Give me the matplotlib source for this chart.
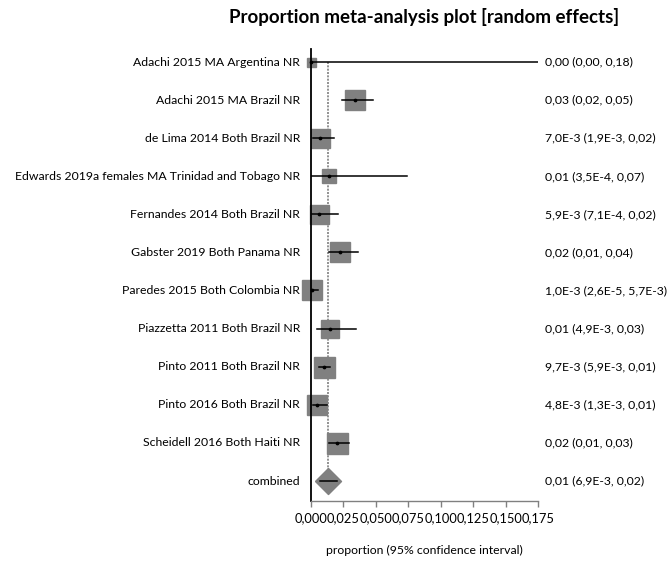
import math
import matplotlib
matplotlib.use("Agg")
import matplotlib.pyplot as plt
from matplotlib.ticker import FixedLocator, FuncFormatter

plt.rcParams['font.family'] = ['Lato', 'DejaVu Sans']

studies = [
    "Adachi 2015 MA Argentina NR",
    "Adachi 2015 MA Brazil NR",
    "de Lima 2014 Both Brazil NR",
    "Edwards 2019a females MA Trinidad and Tobago NR",
    "Fernandes 2014 Both Brazil NR",
    "Gabster 2019 Both Panama NR",
    "Paredes 2015 Both Colombia NR",
    "Piazzetta 2011 Both Brazil NR",
    "Pinto 2011 Both Brazil NR",
    "Pinto 2016 Both Brazil NR",
    "Scheidell 2016 Both Haiti NR",
]
estimate = [0.0, 0.034, 0.0070, 0.0140, 0.0059, 0.0227, 0.0010, 0.0145, 0.0097, 0.0048, 0.0200]
lower = [0.0, 0.024, 0.0019, 0.00035, 0.00071, 0.014, 0.000026, 0.0049, 0.0059, 0.0013, 0.014]
upper = [0.18, 0.048, 0.018, 0.074, 0.021, 0.036, 0.0057, 0.0346, 0.0147, 0.0126, 0.029]
# relative study weights (box side length in pixels)
weights = [9, 20, 19, 14, 19, 20, 20, 18, 21, 20, 21]

pooled_label = "combined"
pooled = 0.0129
pooled_lower = 0.0069
pooled_upper = 0.020

xticks = [0.0, 0.025, 0.05, 0.075, 0.1, 0.125, 0.15, 0.175]


def fmt(v):
    if v == 0 or v >= 0.01:
        return f"{v:.2f}".replace('.', ',')
    e = math.floor(math.log10(v))
    m = round(v / 10 ** e, 1)
    if m >= 10:
        m /= 10
        e += 1
    return f"{m:.1f}E{e}".replace('.', ',')


DPI = 100
FS = 8.8
fig = plt.figure(figsize=(6.70, 5.61), dpi=DPI)
W, H = 670, 561
ax_left, ax_right, ax_top, ax_bottom = 311, 538, 49, 501
ax = fig.add_axes([ax_left / W, (H - ax_bottom) / H,
                   (ax_right - ax_left) / W, (ax_bottom - ax_top) / H])

n = len(studies)
ax.set_xlim(xticks[0], xticks[-1])
ax.set_ylim(n + 0.53, -0.34)

px_to_pt = 72 / DPI

# pooled estimate reference line
ax.plot([pooled, pooled], [0, n], color='#7f7f7f', lw=1.2, ls=(0, (1.2, 0.8)), zorder=1)

for i in range(n):
    ax.plot([estimate[i]], [i], marker='s', ms=weights[i] * px_to_pt,
            color='#808080', mec='#808080', ls='none', zorder=2, clip_on=False)
    ax.plot([lower[i], upper[i]], [i, i], color='black', lw=1.1, zorder=3)
    ax.plot([estimate[i]], [i], marker='o', ms=1.7, color='black', ls='none', zorder=4,
            clip_on=False)
    fig.text(300 / W, 1 - (62 + 38.1 * i) / H, studies[i], ha='right', va='center',
             fontsize=FS)
    fig.text(545 / W, 1 - (62 + 38.1 * i) / H,
             f"{fmt(estimate[i])} ({fmt(lower[i])}, {fmt(upper[i])})",
             ha='left', va='center', fontsize=FS)

diamond = [(-1, 0), (0, 1), (1, 0), (0, -1), (-1, 0)]
ax.plot([pooled], [n], marker=diamond, ms=26 * px_to_pt, color='#808080',
        mec='#808080', ls='none', zorder=2, clip_on=False)
ax.plot([pooled_lower, pooled_upper], [n, n], color='black', lw=1.1, zorder=3)
fig.text(300 / W, 1 - (62 + 38.1 * n) / H, pooled_label, ha='right', va='center',
         fontsize=FS)
fig.text(545 / W, 1 - (62 + 38.1 * n) / H,
         f"{fmt(pooled)} ({fmt(pooled_lower)}, {fmt(pooled_upper)})",
         ha='left', va='center', fontsize=FS)

for side in ('top', 'right'):
    ax.spines[side].set_visible(False)
ax.spines['left'].set_color('black')
ax.spines['left'].set_linewidth(1.3)
ax.spines['bottom'].set_color('#808080')
ax.spines['bottom'].set_linewidth(1.0)
ax.set_yticks([])
ax.xaxis.set_major_locator(FixedLocator(xticks))
ax.xaxis.set_major_formatter(FuncFormatter(lambda v, p: f"{v:.3f}".replace('.', ',')))
ax.tick_params(axis='x', direction='out', length=4, width=1, color='#808080',
               labelsize=9.3, pad=4)
ax.set_facecolor('none')

fig.text((ax_left + ax_right) / 2 / W, 1 - 550 / H, "proportion (95% confidence interval)",
         ha='center', va='center', fontsize=FS)
fig.text((ax_left + ax_right) / 2 / W, 1 - 17 / H,
         "Proportion meta-analysis plot [random effects]",
         ha='center', va='center', fontsize=13.5, fontweight='bold')

fig.savefig("out.png", dpi=DPI)
